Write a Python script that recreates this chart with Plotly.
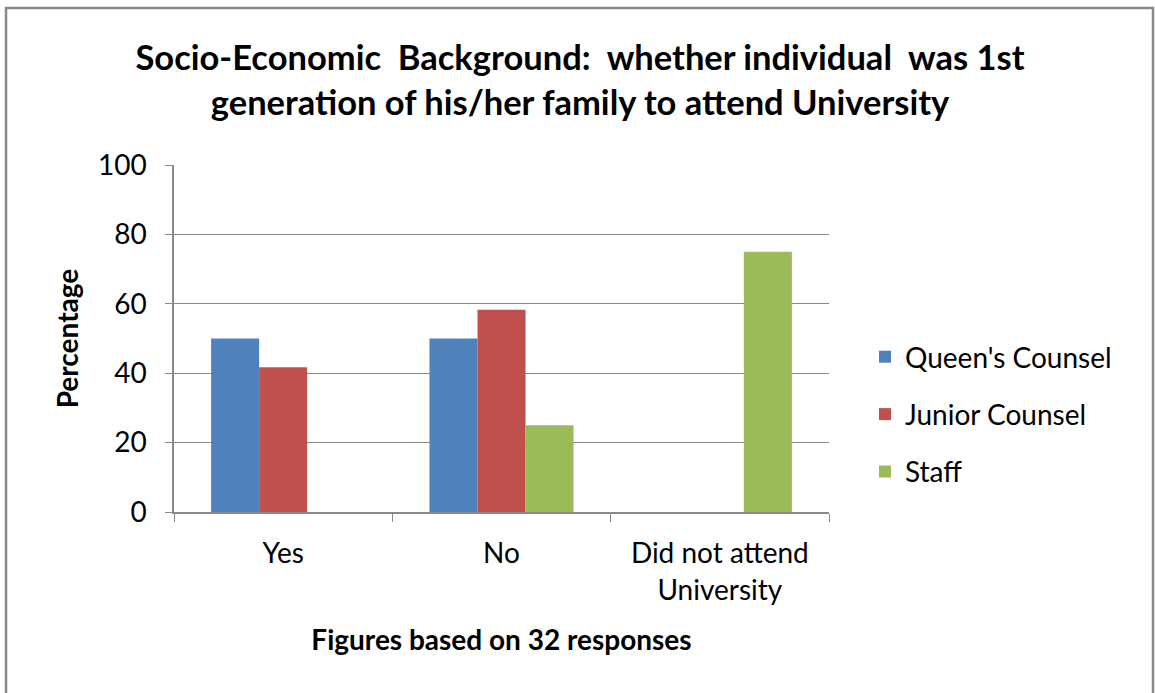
import plotly.graph_objects as go

categories = ["Yes", "No", "Did not attend<br>University"]
series_names = ["Queen's Counsel", "Junior Counsel", "Staff"]
qc_values = [50, 50, None]
jc_values = [41.7, 58.3, None]
staff_values = [None, 25, 75]
colors = ["#4F81BD", "#C0504D", "#9BBB59"]
y_ticks = [0, 20, 40, 60, 80, 100]

W, H = 1155, 693
L, R, T, B = 174, 829, 165, 512

fig = go.Figure()
for i, (name, vals) in enumerate(zip(series_names, [qc_values, jc_values, staff_values])):
    fig.add_trace(go.Bar(
        x=categories, y=vals, name=name, legendgroup=f"g{i}",
        marker=dict(color=colors[i], line=dict(width=0)),
    ))

font = "Lato, 'Open Sans', sans-serif"
FS = 28

def px_to_paper_x(px):
    return (px - L) / (R - L)

def px_to_paper_y(py):
    return (B - py) / (B - T)

fig.update_layout(
    width=W, height=H,
    margin=dict(l=L, r=W - R, t=T, b=H - B, pad=0),
    paper_bgcolor="white", plot_bgcolor="white",
    barmode="group", bargap=0.34, bargroupgap=0,
    font=dict(family=font, color="black"),
    title=dict(
        text="<b>Socio-Economic  Background:  whether individual  was 1st<br>generation of his/her family to attend University</b>",
        x=580 / W, xanchor="center", xref="container", y=1 - 70 / H, yanchor="middle",
        font=dict(size=34.5, family=font, color="black"),
    ),
    showlegend=True,
    legend=dict(
        x=px_to_paper_x(865), xanchor="left", y=px_to_paper_y(332), yanchor="top",
        font=dict(size=FS, family=font, color="black"),
        traceorder="grouped", tracegroupgap=18,
        itemwidth=30, bgcolor="rgba(0,0,0,0)",
    ),
    xaxis=dict(
        showline=True, linecolor="#888888", linewidth=1.5,
        ticks="outside", tickson="boundaries", ticklen=8, tickcolor="#888888",
        ticklabelstandoff=16,
        tickfont=dict(size=FS, family=font, color="black"),
        title=dict(text="<b>Figures based on 32 responses</b>",
                   font=dict(size=FS, family=font, color="black"), standoff=26),
        showgrid=False, range=[-0.5, 2.5],
    ),
    yaxis=dict(
        range=[0, 100], tickvals=y_ticks,
        showline=True, linecolor="#888888", linewidth=1.5,
        ticks="outside", ticklen=7, tickcolor="#888888",
        ticklabelstandoff=13,
        showgrid=True, gridcolor="#888888", gridwidth=1.2,
        tickfont=dict(size=FS, family=font, color="black"),
        title=dict(text="<b>Percentage</b>",
                   font=dict(size=FS, family=font, color="black"), standoff=11),
        zeroline=False,
    ),
)

# outer chart border (top, left, right)
fig.add_shape(type="path", xref="paper", yref="paper",
              path=f"M {px_to_paper_x(6)},{px_to_paper_y(700)} L {px_to_paper_x(6)},{px_to_paper_y(8)} "
                   f"L {px_to_paper_x(1153)},{px_to_paper_y(8)} L {px_to_paper_x(1153)},{px_to_paper_y(700)}",
              line=dict(color="#888888", width=2.5), layer="above")

fig.write_html("out.html", config={"displayModeBar": False},
               post_script="document.body.style.margin='0';document.body.style.overflow='hidden';")
